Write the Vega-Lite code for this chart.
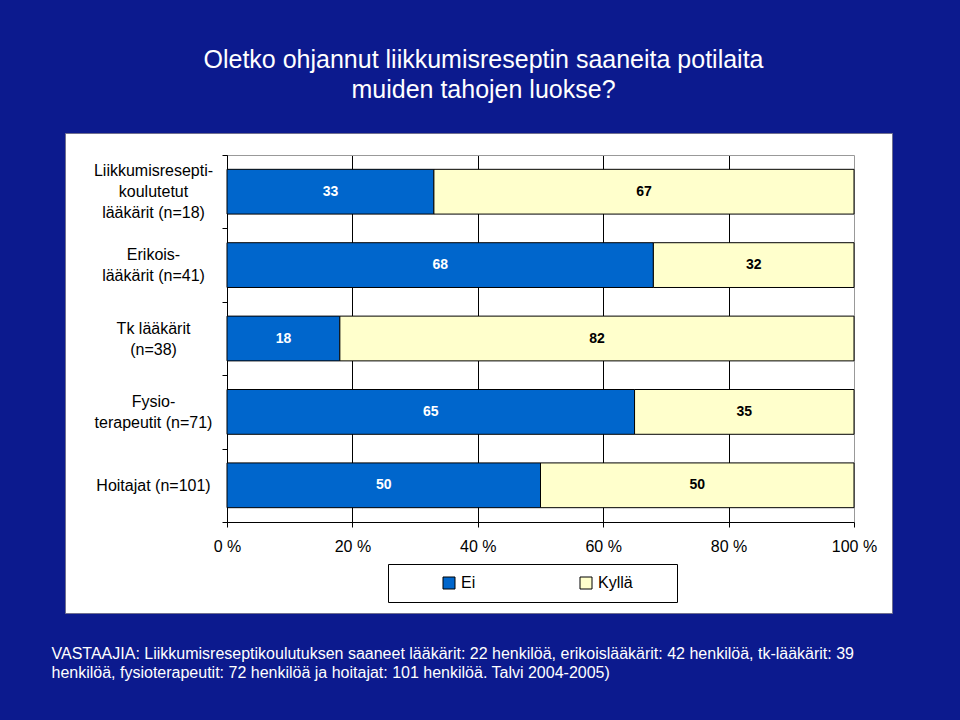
{
  "$schema": "https://vega.github.io/schema/vega-lite/v6.json",
  "autosize": {"type": "none"},
  "width": 827,
  "height": 480,
  "padding": {"left": 65, "top": 133, "right": 68, "bottom": 107},
  "background": "#0c1a8e",
  "config": {
    "view": {"fill": "white", "stroke": "#6f6f8f"},
    "font": "Liberation Sans"
  },
  "title": {
    "text": ["Oletko ohjannut liikkumisreseptin saaneita potilaita", "muiden tahojen luokse?"],
    "color": "white",
    "fontSize": 25,
    "fontWeight": "normal",
    "font": "Liberation Sans",
    "lineHeight": 30,
    "anchor": "middle",
    "dx": 5,
    "offset": 22
  },
  "data": {
    "values": [
      {"group": "Liikkumisresepti-|koulutetut|lääkärit (n=18)", "answer": "Ei", "value": 33},
      {"group": "Liikkumisresepti-|koulutetut|lääkärit (n=18)", "answer": "Kyllä", "value": 67},
      {"group": "Erikois-|lääkärit (n=41)", "answer": "Ei", "value": 68},
      {"group": "Erikois-|lääkärit (n=41)", "answer": "Kyllä", "value": 32},
      {"group": "Tk lääkärit|(n=38)", "answer": "Ei", "value": 18},
      {"group": "Tk lääkärit|(n=38)", "answer": "Kyllä", "value": 82},
      {"group": "Fysio-|terapeutit (n=71)", "answer": "Ei", "value": 65},
      {"group": "Fysio-|terapeutit (n=71)", "answer": "Kyllä", "value": 35},
      {"group": "Hoitajat (n=101)", "answer": "Ei", "value": 50},
      {"group": "Hoitajat (n=101)", "answer": "Kyllä", "value": 50}
    ]
  },
  "transform": [
    {"stack": "value", "groupby": ["group"], "sort": [{"field": "answer", "order": "ascending"}], "as": ["v0", "v1"]}
  ],
  "layer": [
    {
      "mark": {"type": "bar", "stroke": "black", "strokeWidth": 1, "height": {"band": 0.61}},
      "encoding": {
        "y": {
          "field": "group", "type": "nominal", "sort": null,
          "scale": {"range": [22, 389], "paddingInner": 0, "paddingOuter": 0},
          "axis": {
            "orient": "left",
            "offset": -162,
            "title": null,
            "labelExpr": "split(datum.label, '|')",
            "labelAlign": "center",
            "labelBaseline": "middle",
            "labelPadding": 69,
            "labelOffset": {
              "condition": [
                {"test": "indexof(datum.label, 'Liikkumis') >= 0", "value": -21},
                {"test": "indexof(datum.label, '|') >= 0", "value": -10.5}
              ],
              "value": 0
            },
            "labelLineHeight": 21,
            "labelFontSize": 16,
            "labelColor": "black",
            "labelLimit": 300,
            "tickBand": "extent",
            "tickSize": 5,
            "tickColor": "black",
            "domainColor": "black",
            "grid": false
          }
        },
        "x": {
          "field": "v0", "type": "quantitative",
          "scale": {"domain": [0, 100], "range": [162, 789], "nice": false, "zero": true},
          "axis": {
            "orient": "bottom",
            "offset": -91,
            "values": [0, 20, 40, 60, 80, 100],
            "labelExpr": "datum.value + ' %'",
            "labelFontSize": 16,
            "labelColor": "black",
            "labelPadding": 11,
            "labelFlush": false,
            "tickColor": "black",
            "tickSize": 5,
            "domainColor": "black",
            "grid": false,
            "title": [
              "VASTAAJIA: Liikkumisreseptikoulutuksen saaneet lääkärit: 22 henkilöä, erikoislääkärit: 42 henkilöä, tk-lääkärit: 39",
              "henkilöä, fysioterapeutit: 72 henkilöä ja hoitajat: 101 henkilöä. Talvi 2004-2005)"
            ],
            "titleColor": "white",
            "titleFontSize": 16,
            "titleFontWeight": "normal",
            "titleAlign": "left",
            "titleAnchor": "start",
            "titleX": -14,
            "titleY": 123,
            "titleBaseline": "top",
            "titleLineHeight": 19
          }
        },
        "x2": {"field": "v1"},
        "color": {
          "field": "answer", "type": "nominal",
          "scale": {"domain": ["Ei", "Kyllä"], "range": ["#0066CC", "#FFFFCC"]},
          "legend": {
            "orient": "none",
            "legendX": 323,
            "legendY": 431,
            "direction": "horizontal",
            "title": " ",
            "titleOrient": "right",
            "titlePadding": 33,
            "titleFontSize": 10,
            "strokeColor": "black",
            "fillColor": "white",
            "padding": 11,
            "symbolType": "square",
            "symbolSize": 144,
            "symbolStrokeColor": "black",
            "symbolStrokeWidth": 1,
            "symbolOffset": 42,
            "columnPadding": 60,
            "labelOffset": 4,
            "labelFontSize": 16,
            "labelColor": "black"
          }
        }
      }
    },
    {
      "transform": [
        {"fold": ["v0", "v1"], "as": ["edge", "pos"]},
        {"aggregate": [{"op": "mean", "field": "pos", "as": "mid"}], "groupby": ["group", "answer", "value"]}
      ],
      "mark": {"type": "text", "fontWeight": "bold", "fontSize": 14},
      "encoding": {
        "y": {"field": "group", "type": "nominal", "sort": null},
        "x": {
          "field": "mid", "type": "quantitative",
          "axis": {
            "orient": "top", "offset": -22, "domainColor": "#999999", "ticks": false, "labels": false,
            "values": [0, 20, 40, 60, 80, 100],
            "grid": true,
            "gridColor": {"condition": {"test": "datum.value == 100", "value": "#999999"}, "value": "black"},
            "gridOpacity": 1,
            "title": null
          }
        },
        "text": {"field": "value"},
        "color": {"condition": {"test": "datum.answer == 'Ei'", "value": "white"}, "value": "black"}
      }
    }
  ],
  "resolve": {"axis": {"x": "independent"}}
}
